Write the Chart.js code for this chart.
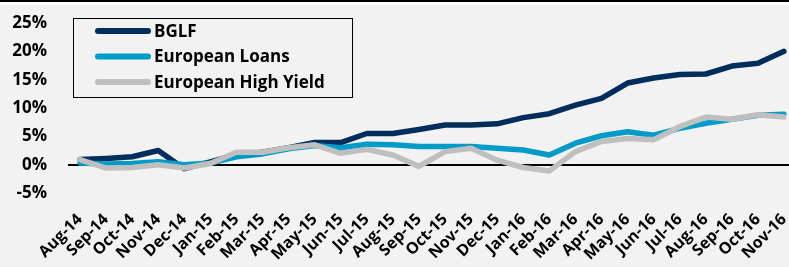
<!DOCTYPE html>
<html>
<head>
<meta charset="utf-8">
<script src="https://cdn.jsdelivr.net/npm/chart.js@4"></script>
<style>
  html, body { margin: 0; padding: 0; background: #f2f2f2; }
  #wrap { width: 789px; height: 267px; }
</style>
</head>
<body>
<div id="wrap"><canvas id="perfChart" width="789" height="267"></canvas></div>
<script>
const months = ['Aug-14', 'Sep-14', 'Oct-14', 'Nov-14', 'Dec-14', 'Jan-15', 'Feb-15', 'Mar-15', 'Apr-15', 'May-15',
    'Jun-15', 'Jul-15', 'Aug-15', 'Sep-15', 'Oct-15', 'Nov-15', 'Dec-15', 'Jan-16', 'Feb-16', 'Mar-16',
    'Apr-16', 'May-16', 'Jun-16', 'Jul-16', 'Aug-16', 'Sep-16', 'Oct-16', 'Nov-16'];
const bglf = [0.9, 1.1, 1.4, 2.5, -0.7, 0.5, 1.8, 2.2, 3.0, 3.9, 3.9, 5.5, 5.5, 6.2, 7.0, 7.0, 7.2, 8.3, 9.0, 10.5,
    11.7, 14.4, 15.3, 15.9, 16.0, 17.4, 17.9, 20.0];
const europeanLoans = [0.3, 0.1, 0.2, 0.5, 0.0, 0.3, 1.4, 1.9, 2.8, 3.4, 3.0, 3.6, 3.5, 3.2, 3.2, 3.2, 2.9, 2.6, 1.7, 3.8,
    5.1, 5.8, 5.2, 6.4, 7.3, 8.0, 8.7, 8.9];
const europeanHighYield = [0.9, -0.6, -0.5, 0.0, -0.6, 0.2, 2.2, 2.2, 3.0, 3.5, 2.0, 2.7, 1.7, -0.3, 2.3, 2.9, 0.8, -0.5, -1.1, 2.3,
    4.1, 4.6, 4.4, 6.7, 8.4, 8.0, 8.8, 8.4];
const yTicks = [-5, 0, 5, 10, 15, 20, 25];

const FONT = '"Open Sans", "DejaVu Sans", sans-serif';

// fondo gris con la franja negra/blanca de arriba, y la linea del cero
const backdrop = {
    id: 'backdrop',
    beforeDraw(chart) {
        const c = chart.ctx;
        c.save();
        c.fillStyle = '#f2f2f2';
        c.fillRect(0, 0, chart.width, chart.height);
        c.fillStyle = '#000';
        c.fillRect(0, 0, chart.width, 2);
        c.fillStyle = '#fff';
        c.fillRect(0, 2, chart.width, 3);
        c.restore();
    },
    beforeDatasetsDraw(chart) {
        const c = chart.ctx;
        const y = Math.round(chart.scales.y.getPixelForValue(0));
        c.save();
        c.strokeStyle = '#000';
        c.lineWidth = 2;
        c.beginPath();
        c.moveTo(chart.chartArea.left - 12, y);
        c.lineTo(chart.width, y);
        c.stroke();
        c.restore();
    }
};

// leyenda dentro del grafico con recuadro
const boxLegend = {
    id: 'boxLegend',
    afterDraw(chart) {
        const c = chart.ctx;
        const x0 = 73, y0 = 18, w = 279, h = 79;
        c.save();
        c.strokeStyle = '#000';
        c.lineWidth = 1;
        c.strokeRect(x0 + 0.5, y0 + 0.5, w, h);
        chart.data.datasets.forEach((ds, i) => {
            const cy = 31 + i * 25.5;
            c.strokeStyle = ds.borderColor;
            c.lineWidth = 6;
            c.lineCap = 'round';
            c.beginPath();
            c.moveTo(98, cy);
            c.lineTo(148, cy);
            c.stroke();
            c.fillStyle = '#000';
            c.font = 'bold 17px ' + FONT;
            c.textBaseline = 'middle';
            c.fillText(ds.label, 154, cy + 1);
        });
        c.restore();
    }
};

const ctx = document.getElementById('perfChart').getContext('2d');
const perfChart = new Chart(ctx, {
    type: 'line',
    data: {
        labels: months,
        datasets: [
            { label: 'BGLF', data: bglf, borderColor: '#002d5c', order: 3 },
            { label: 'European Loans', data: europeanLoans, borderColor: '#009bc8', order: 2 },
            { label: 'European High Yield', data: europeanHighYield, borderColor: '#bfbfbf', order: 1 }
        ]
    },
    options: {
        responsive: false,
        animation: false,
        layout: { padding: { top: 23, right: 5, left: 0, bottom: 0 } },
        elements: {
            line: { borderWidth: 5.5, tension: 0, borderCapStyle: 'round', borderJoinStyle: 'round' },
            point: { radius: 0 }
        },
        plugins: {
            legend: { display: false },
            tooltip: { enabled: false }
        },
        scales: {
            x: {
                offset: false,
                grid: { display: false, drawTicks: false },
                border: { display: false },
                ticks: {
                    autoSkip: false,
                    minRotation: 45,
                    maxRotation: 45,
                    padding: 17,
                    color: '#000',
                    font: { family: FONT, size: 16, weight: 'bold' }
                },
                afterFit(scale) {
                    scale.height = 74;
                    scale.paddingRight = 0;
                    scale.paddingLeft = 0;
                }
            },
            y: {
                min: -5,
                max: 25,
                afterBuildTicks(scale) {
                    scale.ticks = yTicks.map(v => ({ value: v }));
                },
                grid: { display: false, drawTicks: false },
                border: { display: false },
                ticks: {
                    padding: 33,
                    color: '#000',
                    font: { family: FONT, size: 17, weight: 'bold' },
                    callback: v => v + '%'
                },
                afterFit(scale) {
                    scale.width = 80;
                    scale.paddingTop = 0;
                    scale.paddingBottom = 0;
                }
            }
        }
    },
    plugins: [backdrop, boxLegend]
});
</script>
</body>
</html>
